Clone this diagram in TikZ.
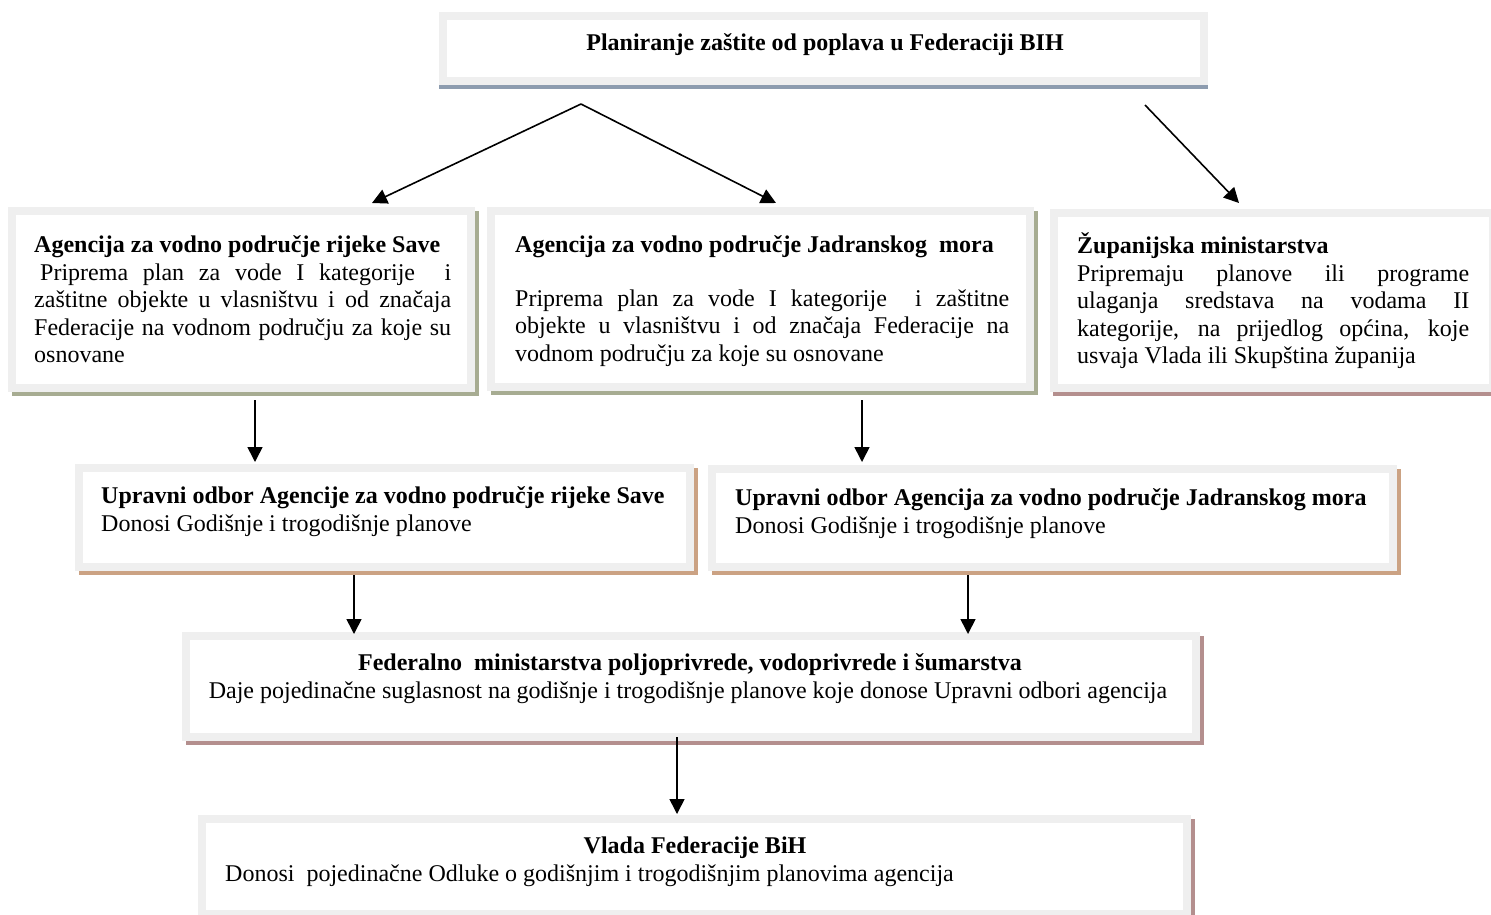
\documentclass[tikz,border=0pt]{standalone}
\usepackage{fontspec}
\setmainfont{Liberation Serif}
\usetikzlibrary{arrows.meta}
\definecolor{framegray}{HTML}{EFEFEF}
\definecolor{shblue}{HTML}{8D9CAF}
\definecolor{sholive}{HTML}{A7AC92}
\definecolor{shrose}{HTML}{B48F8E}
\definecolor{shtan}{HTML}{CBA283}
\tikzset{
  panel/.style={draw=framegray, line width=8pt, fill=white, inner sep=0pt, anchor=center},
  ttl/.style={font=\fontsize{24}{27.5}\selectfont\bfseries, inner sep=0pt, anchor=base west},
  ttlc/.style={font=\fontsize{24}{27.5}\selectfont\bfseries, inner sep=0pt, anchor=base},
  line/.style={font=\fontsize{24}{27.5}\selectfont, inner sep=0pt, anchor=base west},
  linec/.style={font=\fontsize{24}{27.5}\selectfont, inner sep=0pt, anchor=base},
  para/.style={font=\fontsize{24}{27.5}\selectfont, inner sep=0pt, anchor=north west, align=justify},
  arr/.style={line width=1.6pt, -{Triangle[length=15pt,width=15pt]}},
}
% name, x1, y1, x2, y2, shadow colour, shadow x offset
\newcommand\mypanel[7]{%
  \fill[#6] ({#2+#7},{#3+4}) rectangle ({#4+#7},{#5+4});
  \node[panel, minimum width={#4-#2-8}, minimum height={#5-#3-8}] (#1) at ({(#2+#4)/2},{(#3+#5)/2}) {};
}
\begin{document}
\begin{tikzpicture}[x=1pt,y=-1pt]
\useasboundingbox (0,0) rectangle (1491,914);
\clip (0,0) rectangle (1491,914);

\mypanel{top}{439}{12}{1208}{85}{shblue}{0}
\mypanel{save}{8}{207}{475}{392}{sholive}{4}
\mypanel{jad}{487}{207}{1034}{391}{sholive}{4}
\mypanel{zup}{1050}{209}{1497}{392}{shrose}{3}
\mypanel{usave}{75}{464}{694}{571}{shtan}{4}
\mypanel{ujad}{708}{465}{1397}{571}{shtan}{4}
\mypanel{fed}{182}{632}{1200}{741}{shrose}{4}
\mypanel{vlada}{198}{815}{1191}{918}{shrose}{4}

% texts
\node[ttlc] (toptxt) at (825,50) {Planiranje zaštite od poplava u Federaciji BIH};

\node[ttl] (savet) at (34,252) {Agencija za vodno područje rijeke Save};
\node[para, text width=417pt] (saveb) at (34,{280-19.25}) {\strut\hspace*{6pt}Priprema plan za vode I kategorije\ \ i\linebreak
zaštitne objekte u vlasništvu i od značaja\linebreak
Federacije na vodnom području za koje su\linebreak
osnovane};

\node[ttl] (jadt) at (515,252) {Agencija za vodno područje Jadranskog\ \ mora};
\node[para, text width=494pt] (jadb) at (515,{306-19.25}) {\strut Priprema plan za vode I kategorije\ \ i zaštitne\linebreak
objekte u vlasništvu i od značaja Federacije na\linebreak
vodnom području za koje su osnovane};

\node[ttl] (zupt) at (1077,253) {Županijska ministarstva};
\node[para, text width=392pt] (zupb) at (1077,{281-19.25}) {\strut Pripremaju planove ili programe\linebreak
ulaganja sredstava na vodama II\linebreak
kategorije, na prijedlog općina, koje\linebreak
usvaja Vlada ili Skupština županija};

\node[ttl] (usavet) at (101,503) {Upravni odbor Agencije za vodno područje rijeke Save};
\node[line] (usaveb) at (101,531) {Donosi Godišnje i trogodišnje planove};

\node[ttl] (ujadt) at (735,505) {Upravni odbor Agencija za vodno područje Jadranskog mora};
\node[line] (ujadb) at (735,533) {Donosi Godišnje i trogodišnje planove};

\node[ttlc] (fedt) at (690,670) {Federalno\ \ ministarstva poljoprivrede, vodoprivrede i šumarstva};
\node[linec] (fedb) at (688,698) {Daje pojedinačne suglasnost na godišnje i trogodišnje planove koje donose Upravni odbori agencija};

\node[ttlc] (vladat) at (695,853) {Vlada Federacije BiH};
\node[line] (vladab) at (225,881) {Donosi\ \ pojedinačne Odluke o godišnjim i trogodišnjim planovima agencija};

% connector end points
\coordinate (fork) at (581,104);
\coordinate (fork2) at (1145,105);
\coordinate (saveIn) at (372,203);
\coordinate (jadIn) at (776,203);
\coordinate (zupIn) at (1239,203);
\coordinate (saveOut) at (255,400);
\coordinate (usaveIn) at (255,462);
\coordinate (jadOut) at (862,400);
\coordinate (ujadIn) at (862,462);
\coordinate (usaveOut) at (354,575);
\coordinate (fedInL) at (354,634);
\coordinate (ujadOut) at (968,575);
\coordinate (fedInR) at (968,634);
\coordinate (fedOut) at (677,737);
\coordinate (vladaIn) at (677,814);

\draw[arr] (fork) -- (saveIn);
\draw[arr] (fork) -- (jadIn);
\draw[arr] (fork2) -- (zupIn);
\draw[arr] (saveOut) -- (usaveIn);
\draw[arr] (jadOut) -- (ujadIn);
\draw[arr] (usaveOut) -- (fedInL);
\draw[arr] (ujadOut) -- (fedInR);
\draw[arr] (fedOut) -- (vladaIn);
\end{tikzpicture}
\end{document}
